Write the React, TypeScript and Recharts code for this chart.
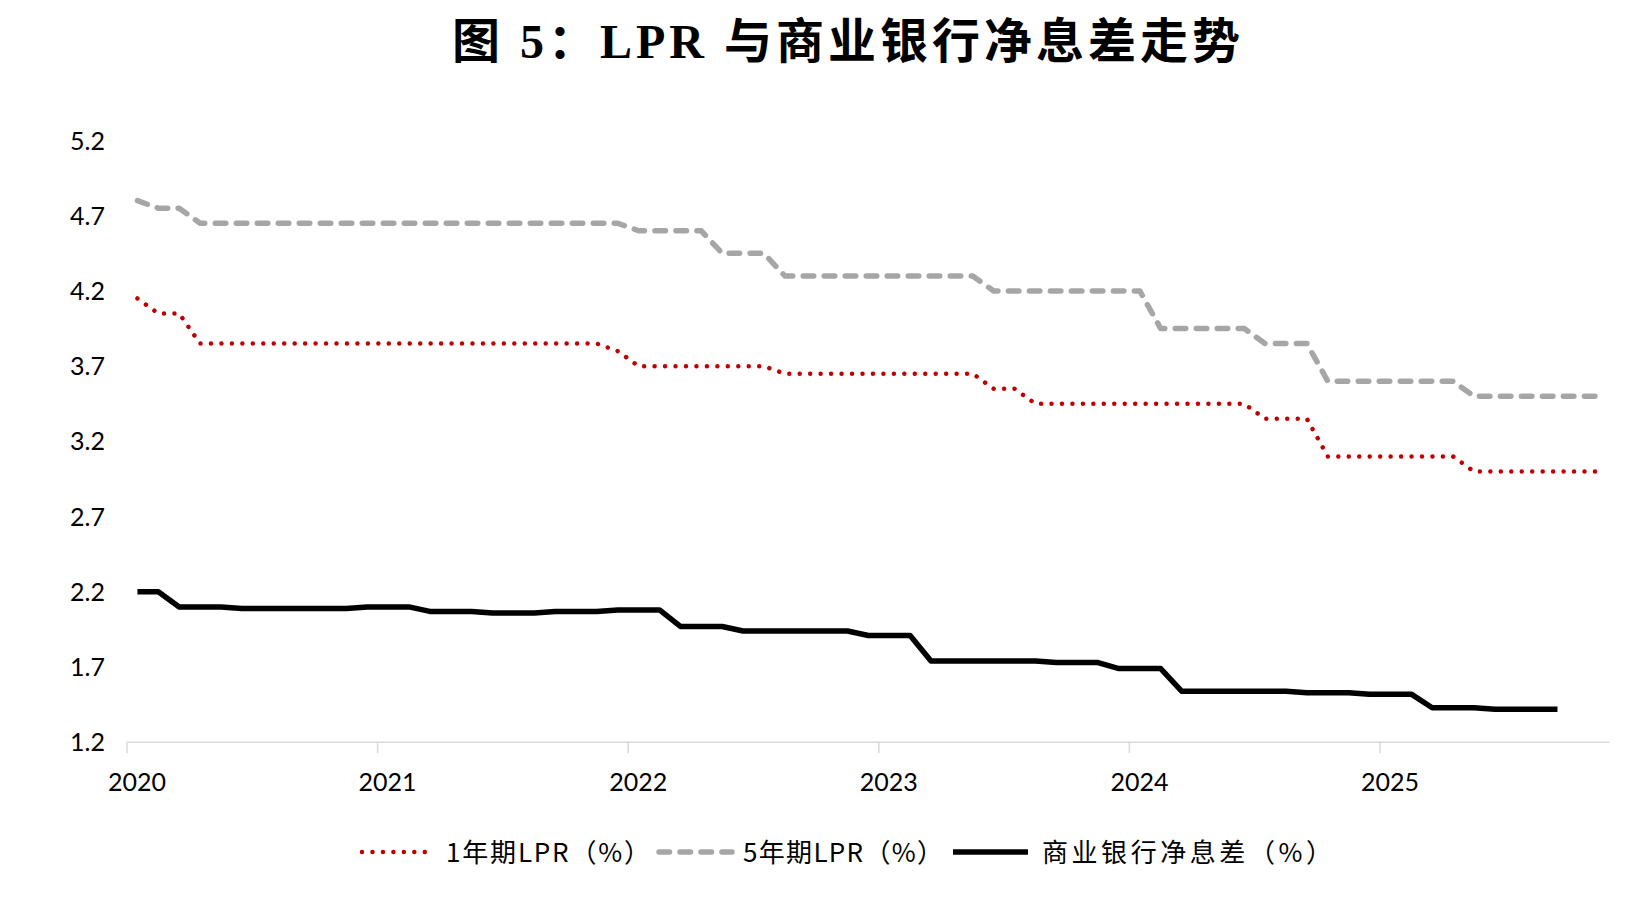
import React from 'react';
import { LineChart, Line, XAxis, YAxis } from 'recharts';

// Monthly observations starting January 2020
const FIRST_YEAR = 2020;

// 1-year LPR (%), Jan 2020 – Nov 2025
const lpr1yValues = [
  4.15, 4.05, 4.05, 3.85, 3.85, 3.85, 3.85, 3.85, 3.85, 3.85, 3.85, 3.85, // 2020
  3.85, 3.85, 3.85, 3.85, 3.85, 3.85, 3.85, 3.85, 3.85, 3.85, 3.85, 3.80, // 2021
  3.70, 3.70, 3.70, 3.70, 3.70, 3.70, 3.70, 3.65, 3.65, 3.65, 3.65, 3.65, // 2022
  3.65, 3.65, 3.65, 3.65, 3.65, 3.55, 3.55, 3.45, 3.45, 3.45, 3.45, 3.45, // 2023
  3.45, 3.45, 3.45, 3.45, 3.45, 3.45, 3.35, 3.35, 3.35, 3.10, 3.10, 3.10, // 2024
  3.10, 3.10, 3.10, 3.10, 3.00, 3.00, 3.00, 3.00, 3.00, 3.00, 3.00,       // 2025
];

// 5-year LPR (%), Jan 2020 – Nov 2025
const lpr5yValues = [
  4.80, 4.75, 4.75, 4.65, 4.65, 4.65, 4.65, 4.65, 4.65, 4.65, 4.65, 4.65, // 2020
  4.65, 4.65, 4.65, 4.65, 4.65, 4.65, 4.65, 4.65, 4.65, 4.65, 4.65, 4.65, // 2021
  4.60, 4.60, 4.60, 4.60, 4.45, 4.45, 4.45, 4.30, 4.30, 4.30, 4.30, 4.30, // 2022
  4.30, 4.30, 4.30, 4.30, 4.30, 4.20, 4.20, 4.20, 4.20, 4.20, 4.20, 4.20, // 2023
  4.20, 3.95, 3.95, 3.95, 3.95, 3.95, 3.85, 3.85, 3.85, 3.60, 3.60, 3.60, // 2024
  3.60, 3.60, 3.60, 3.60, 3.50, 3.50, 3.50, 3.50, 3.50, 3.50, 3.50,       // 2025
];

// Commercial bank net interest margin (%), latest quarterly figure carried monthly, Jan 2020 – Sep 2025
const nimValues = [
  2.20, 2.20, 2.10, 2.10, 2.10, 2.09, 2.09, 2.09, 2.09, 2.09, 2.09, 2.10, // 2020
  2.10, 2.10, 2.07, 2.07, 2.07, 2.06, 2.06, 2.06, 2.07, 2.07, 2.07, 2.08, // 2021
  2.08, 2.08, 1.97, 1.97, 1.97, 1.94, 1.94, 1.94, 1.94, 1.94, 1.94, 1.91, // 2022
  1.91, 1.91, 1.74, 1.74, 1.74, 1.74, 1.74, 1.74, 1.73, 1.73, 1.73, 1.69, // 2023
  1.69, 1.69, 1.54, 1.54, 1.54, 1.54, 1.54, 1.54, 1.53, 1.53, 1.53, 1.52, // 2024
  1.52, 1.52, 1.43, 1.43, 1.43, 1.42, 1.42, 1.42, 1.42,                   // 2025
];

const yearTicks = [2020, 2021, 2022, 2023, 2024, 2025];
const valueTicks = [1.2, 1.7, 2.2, 2.7, 3.2, 3.7, 4.2, 4.7, 5.2];

const chartTitle = '图 5：LPR 与商业银行净息差走势';
const seriesLabels = {
  lpr1y: '1年期LPR（%）',
  lpr5y: '5年期LPR（%）',
  nim: '商业银行净息差（%）',
};

// Each observation sits at the middle of its month on a continuous time axis
const rows = lpr1yValues.map((v, i) => ({
  t: FIRST_YEAR + (i + 0.5) / 12,
  lpr1y: v,
  lpr5y: lpr5yValues[i],
  nim: i < nimValues.length ? nimValues[i] : null,
}));

const X_END = FIRST_YEAR + 71 / 12;

const TICK_FONT = 'Lato, "Open Sans", sans-serif';
const CJK_FONT = '"Noto Sans CJK SC", sans-serif';

const RED = '#C00000';
const GREY = '#A6A6A6';
const BLACK = '#000000';

const YTick = (props: any) => {
  const { x, y, payload } = props;
  return (
    <text x={x} y={y + 9} textAnchor="end" fontFamily={TICK_FONT} fontSize={25} fill="#000">
      {Number(payload.value).toFixed(1)}
    </text>
  );
};

const XTick = (props: any) => {
  const { x, y, payload } = props;
  return (
    <text x={x + 10} y={y + 38} textAnchor="middle" fontFamily={TICK_FONT} fontSize={25} fill="#000">
      {payload.value}
    </text>
  );
};

const legendY = 852;

export default function App() {
  return (
    <div style={{ position: 'absolute', left: 0, top: 0, width: 1645, height: 902, background: '#fff' }}>
      <LineChart
        width={1645}
        height={902}
        data={rows}
        margin={{ top: 140.5, right: 35.3, bottom: 109.7, left: 0 }}
      >
        <XAxis
          dataKey="t"
          type="number"
          domain={[FIRST_YEAR, X_END]}
          ticks={yearTicks}
          interval={0}
          height={50}
          tickSize={11}
          tickMargin={0}
          axisLine={{ stroke: '#d9d9d9', strokeWidth: 1.5 }}
          tickLine={{ stroke: '#d9d9d9', strokeWidth: 1.5 }}
          tick={<XTick />}
        />
        <YAxis
          type="number"
          domain={[1.2, 5.2]}
          ticks={valueTicks}
          interval={0}
          width={127}
          tickSize={0}
          tickMargin={22}
          axisLine={false}
          tickLine={false}
          tick={<YTick />}
        />
        <Line
          type="linear"
          dataKey="lpr5y"
          name={seriesLabels.lpr5y}
          stroke={GREY}
          strokeWidth={5.5}
          strokeDasharray="10.5 10.5"
          strokeLinecap="round"
          strokeLinejoin="round"
          dot={false}
          activeDot={false}
          isAnimationActive={false}
        />
        <Line
          type="linear"
          dataKey="lpr1y"
          name={seriesLabels.lpr1y}
          stroke={RED}
          strokeWidth={4.5}
          strokeDasharray="0.01 10.45"
          strokeLinecap="round"
          strokeLinejoin="round"
          dot={false}
          activeDot={false}
          isAnimationActive={false}
        />
        <Line
          type="linear"
          dataKey="nim"
          name={seriesLabels.nim}
          stroke={BLACK}
          strokeWidth={5.5}
          strokeLinejoin="round"
          dot={false}
          activeDot={false}
          isAnimationActive={false}
        />
      </LineChart>

      <svg
        width={1645}
        height={902}
        style={{ position: 'absolute', left: 0, top: 0, pointerEvents: 'none' }}
      >
        <text
          x={848}
          y={58}
          textAnchor="middle"
          fontFamily={'"Liberation Serif", "Noto Sans CJK SC", serif'}
          fontWeight={700}
          fontSize={48}
          letterSpacing={4}
          fill="#000"
        >
          {chartTitle}
        </text>

        {/* legend */}
        <line x1={362} x2={431} y1={legendY} y2={legendY} stroke={RED} strokeWidth={4.5}
          strokeDasharray="0.01 10.45" strokeLinecap="round" />
        <text x={446} y={legendY + 10} fontFamily={CJK_FONT} fontSize={26} fill="#000"
          textLength={204} lengthAdjust="spacing">
          {seriesLabels.lpr1y}
        </text>

        <line x1={659} x2={732} y1={legendY} y2={legendY} stroke={GREY} strokeWidth={5.5}
          strokeDasharray="10.5 10.5" strokeLinecap="round" />
        <text x={743} y={legendY + 10} fontFamily={CJK_FONT} fontSize={26} fill="#000"
          textLength={200} lengthAdjust="spacing">
          {seriesLabels.lpr5y}
        </text>

        <line x1={953} x2={1028} y1={legendY} y2={legendY} stroke={BLACK} strokeWidth={5.5} />
        <text x={1042} y={legendY + 10} fontFamily={CJK_FONT} fontSize={26} fill="#000"
          textLength={290} lengthAdjust="spacing">
          {seriesLabels.nim}
        </text>
      </svg>
    </div>
  );
}
